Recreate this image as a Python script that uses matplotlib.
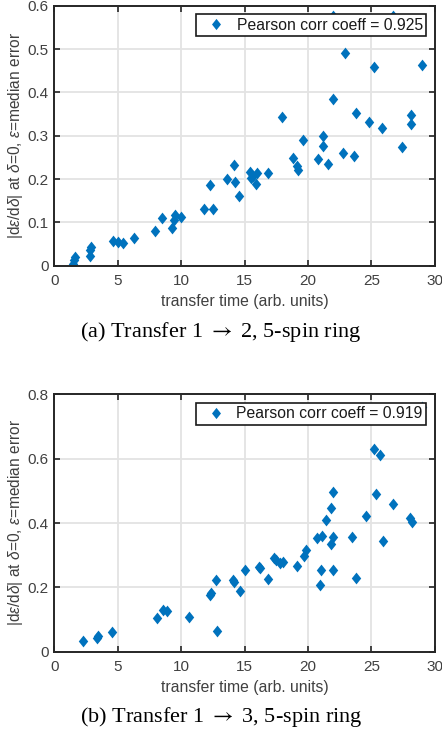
import numpy as np
import matplotlib.pyplot as plt
from matplotlib.path import Path

# (a) transfer 1 -> 2
time_a = [1.5, 1.55, 1.6, 2.85, 2.85, 2.92, 4.6, 5.0, 5.4, 6.28, 7.9, 8.5, 9.25, 9.4,
          9.55, 10.0, 11.78, 12.3, 12.53, 13.65, 14.17, 14.22, 14.58, 15.4, 15.47, 15.7,
          15.95, 15.9, 16.83, 17.92, 18.79, 19.1, 19.2, 19.62, 20.8, 21.15, 21.2, 21.6,
          21.99, 22.77, 22.9, 23.6, 23.75, 24.82, 25.19, 25.85, 27.42, 28.1, 28.1, 29.0,
          21.94, 26.7]
sens_a = [0.003, 0.013, 0.021, 0.022, 0.037, 0.043, 0.057, 0.055, 0.052, 0.063, 0.079, 0.110,
          0.086, 0.106, 0.116, 0.112, 0.132, 0.186, 0.132, 0.199, 0.233, 0.194, 0.162, 0.217,
          0.202, 0.208, 0.213, 0.188, 0.215, 0.344, 0.248, 0.229, 0.222, 0.290, 0.246, 0.276,
          0.300, 0.234, 0.385, 0.261, 0.490, 0.253, 0.352, 0.332, 0.459, 0.317, 0.273, 0.348,
          0.327, 0.463, 0.577, 0.577]

# (b) transfer 1 -> 3
time_b = [2.29, 3.35, 3.45, 4.52, 8.12, 8.59, 8.86, 10.64, 12.27, 12.38, 12.74, 12.8, 14.08,
          14.2, 14.6, 15.04, 16.16, 16.25, 16.84, 17.3, 17.45, 17.82, 18.02, 19.1, 19.68,
          19.87, 20.7, 21.1, 21.02, 20.96, 21.45, 21.8, 21.99, 21.8, 22.0, 21.94, 23.45,
          23.78, 24.56, 25.19, 25.67, 25.35, 25.93, 26.72, 28.03, 28.16, 28.95]
sens_b = [0.033, 0.044, 0.048, 0.060, 0.104, 0.131, 0.128, 0.107, 0.177, 0.184, 0.223, 0.064,
          0.222, 0.216, 0.190, 0.253, 0.264, 0.259, 0.227, 0.290, 0.285, 0.276, 0.278, 0.267,
          0.299, 0.317, 0.352, 0.360, 0.254, 0.207, 0.408, 0.448, 0.497, 0.334, 0.358, 0.254,
          0.357, 0.230, 0.423, 0.629, 0.611, 0.489, 0.345, 0.458, 0.415, 0.402, 0.762]

labels = ['Pearson corr coeff = 0.925', 'Pearson corr coeff = 0.919']
captions = [r'(a) Transfer 1 $\rightarrow$ 2, 5-spin ring',
            r'(b) Transfer 1 $\rightarrow$ 3, 5-spin ring']
ymax = [0.6, 0.8]
yticks = [np.arange(0, 0.61, 0.1), np.arange(0, 0.81, 0.2)]

plt.rcParams['font.family'] = ['Liberation Sans', 'DejaVu Sans']
plt.rcParams['mathtext.fontset'] = 'custom'
plt.rcParams['mathtext.it'] = 'Liberation Sans:italic'
plt.rcParams['mathtext.rm'] = 'Liberation Sans'

blue = '#0072BD'
dark = '#262626'
gray_txt = '#404040'

# MATLAB-like diamond, a bit taller than wide
diamond = Path([(0, 1), (0.8, 0), (0, -1), (-0.8, 0), (0, 1)],
               [Path.MOVETO, Path.LINETO, Path.LINETO, Path.LINETO, Path.CLOSEPOLY])

fig = plt.figure(figsize=(4.42, 7.35), dpi=100)
ax_a = fig.add_axes([0.1229, 0.6385, 0.861, 0.3537])
ax_b = fig.add_axes([0.1229, 0.1133, 0.861, 0.3502])

data = [(time_a, sens_a), (time_b, sens_b)]
cap_y = [1 - 332 / 735, 1 - 717 / 735]

for i, ax in enumerate([ax_a, ax_b]):
    t, s = data[i]
    ax.plot(t, s, linestyle='none', marker=diamond, markersize=8.5, color=blue,
            markeredgewidth=0, label=labels[i])
    ax.set_xlim(0, 30)
    ax.set_ylim(0, ymax[i])
    ax.set_xticks(np.arange(0, 31, 5))
    ax.set_yticks(yticks[i])
    ax.set_yticklabels(['0'] + ['%g' % v for v in yticks[i][1:]])
    ax.grid(True, color='#e3e3e3', linewidth=1.3)
    ax.set_axisbelow(True)
    for sp in ax.spines.values():
        sp.set_color(dark)
        sp.set_linewidth(1.4)
    ax.tick_params(direction='in', length=4, width=1.2, colors=dark, labelsize=11,
                   labelcolor=gray_txt, top=True, right=True)
    ax.tick_params(axis='x', pad=6)
    ax.tick_params(axis='y', pad=4)
    ax.set_xlabel('transfer time (arb. units)', fontsize=11.3, color=gray_txt, labelpad=4)
    ax.set_ylabel(r'|d$\epsilon$/d$\delta$| at $\delta$=0, $\epsilon$=median error',
                  fontsize=11.2, color=gray_txt, labelpad=2)
    leg = ax.legend(loc='upper right', fontsize=11.3, frameon=True, fancybox=False,
                    handletextpad=0.25, borderpad=0.22, borderaxespad=0.55,
                    handlelength=2.1, markerscale=0.95)
    leg.get_frame().set_edgecolor('#1a1a1a')
    leg.get_frame().set_linewidth(1.2)
    leg.get_frame().set_alpha(1)
    leg.set_zorder(5)
    for txt in leg.get_texts():
        txt.set_color('#1a1a1a')
    fig.text(0.5, cap_y[i], captions[i], ha='center', va='center', fontsize=16,
             family=['Liberation Serif', 'DejaVu Serif'], math_fontfamily='stix')

fig.savefig('out.png', dpi=100)
